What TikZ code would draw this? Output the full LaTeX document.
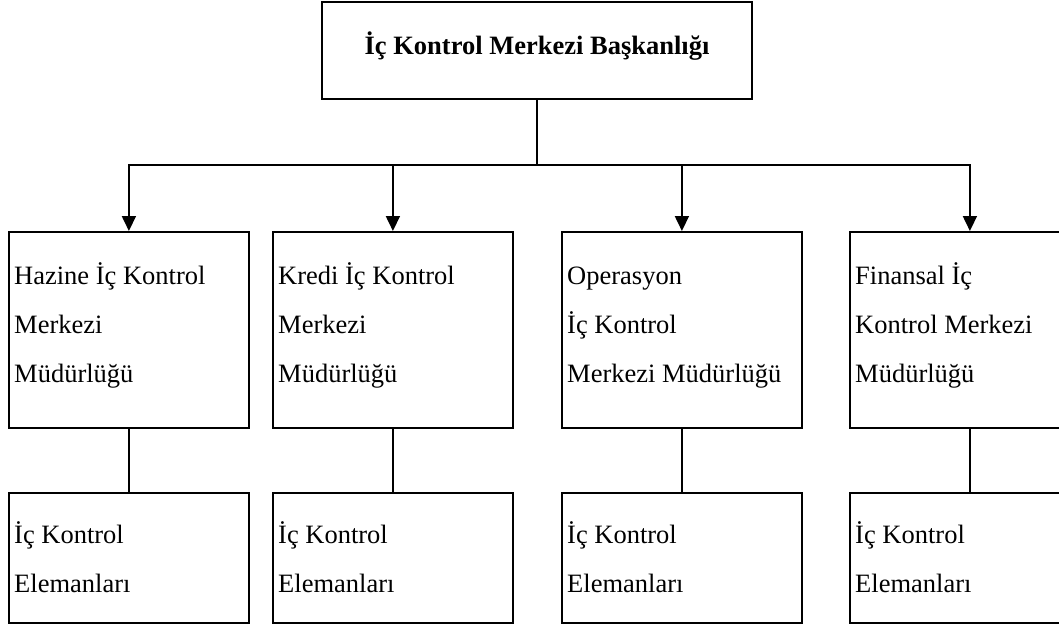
\documentclass[tikz,border=0pt]{standalone}
\usepackage{fontspec}
\setmainfont{Liberation Serif}
\usetikzlibrary{arrows.meta}
\begin{document}
\begin{tikzpicture}[x=1pt,y=-1pt,
  box/.style={draw, line width=1.8pt, rectangle, inner sep=0pt, minimum width=240pt, anchor=north west},
  rowone/.style={box, minimum height=196pt},
  rowtwo/.style={box, minimum height=130pt},
  txt/.style={anchor=base west, align=left, inner sep=0pt, font={\fontsize{26.5}{49}\selectfont}},
  conn/.style={line width=1.8pt},
  arr/.style={conn, -{Triangle[length=15pt,width=14pt]}}]
\clip (0,0) rectangle (1059,626);
\fill[white] (0,0) rectangle (1059,626);
% top box
\node (top) [draw, line width=1.8pt, inner sep=0pt, minimum width=430pt, minimum height=97pt,
  text height=18pt, text depth=9pt, font={\fontsize{26.5}{32}\selectfont\bfseries}]
  at (537,50.5) {İç Kontrol Merkezi Başkanlığı};
% row one boxes
\node (b1) [rowone] at (8,231) {};
\node (b2) [rowone] at (272,231) {};
\node (b3) [rowone] at (561,231) {};
\node (b4) [rowone] at (849,231) {};
% row two boxes
\node (e1) [rowtwo] at (8,492) {};
\node (e2) [rowtwo] at (272,492) {};
\node (e3) [rowtwo] at (561,492) {};
\node (e4) [rowtwo] at (849,492) {};
% texts (base anchor = last line's baseline)
\node (t1) [txt] at (14,382) {Hazine İç Kontrol\\Merkezi\\Müdürlüğü};
\node (t2) [txt] at (278,382) {Kredi İç Kontrol\\Merkezi\\Müdürlüğü};
\node (t3) [txt] at (567,382) {Operasyon\\İç Kontrol\\Merkezi Müdürlüğü};
\node (t4) [txt] at (855,382) {Finansal İç\\Kontrol Merkezi\\Müdürlüğü};
\node (s1) [txt] at (14,592) {İç Kontrol\\Elemanları};
\node (s2) [txt] at (278,592) {İç Kontrol\\Elemanları};
\node (s3) [txt] at (567,592) {İç Kontrol\\Elemanları};
\node (s4) [txt] at (855,592) {İç Kontrol\\Elemanları};
% connectors
\coordinate (j) at (537,165);
\coordinate (h1) at (b1.north |- j);
\coordinate (h2) at (b2.north |- j);
\coordinate (h3) at (b3.north |- j);
\coordinate (h4) at (b4.north |- j);
\draw[conn] (top.south) -- (j);
\draw[conn, line cap=rect] (h1) -- (h4);
\draw[arr] (h1) -- (b1.north);
\draw[arr] (h2) -- (b2.north);
\draw[arr] (h3) -- (b3.north);
\draw[arr] (h4) -- (b4.north);
\draw[conn] (b1.south) -- (e1.north);
\draw[conn] (b2.south) -- (e2.north);
\draw[conn] (b3.south) -- (e3.north);
\draw[conn] (b4.south) -- (e4.north);
\end{tikzpicture}
\end{document}
